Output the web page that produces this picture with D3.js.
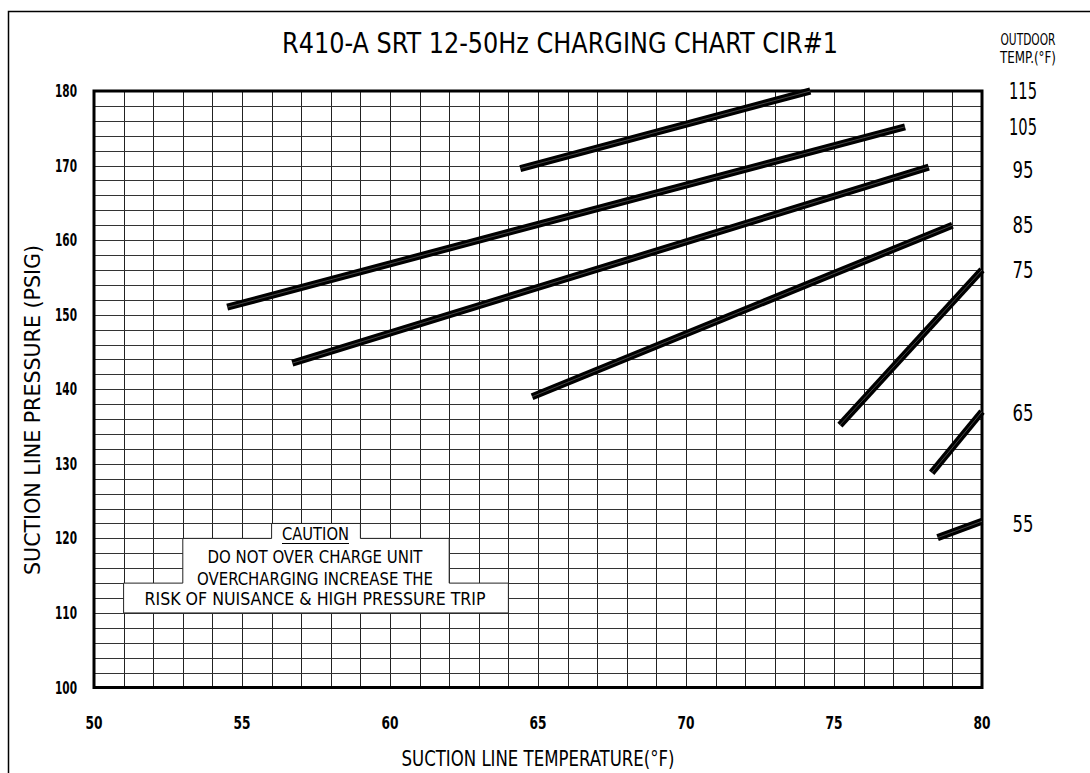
<!DOCTYPE html>
<html>
<head>
<meta charset="utf-8">
<script src="https://cdn.jsdelivr.net/npm/d3@7"></script>
<style>
  html, body { margin: 0; padding: 0; background: #fff; }
  svg { display: block; }
  text { font-family: "DejaVu Sans Condensed", "DejaVu Sans", "Liberation Sans Narrow", sans-serif; font-stretch: condensed; fill: #000; }
</style>
</head>
<body>
<svg id="chart" width="1090" height="773"></svg>
<script>
// ---- data ----
const xTicks = [50, 55, 60, 65, 70, 75, 80];
const yTicks = [100, 110, 120, 130, 140, 150, 160, 170, 180];
const outdoorTemps = [115, 105, 95, 85, 75, 65, 55];
const line115 = [[64.4, 169.6], [74.2, 180.0]];
const line105 = [[54.5, 151.0], [77.4, 175.2]];
const line95  = [[56.7, 143.5], [78.2, 169.8]];
const line85  = [[64.8, 139.0], [79.0, 162.0]];
const line75  = [[75.2, 135.2], [80.0, 156.0]];
const line65  = [[78.3, 128.8], [80.0, 137.0]];
const line55  = [[78.5, 120.1], [80.0, 122.3]];
const chargeLines = [line115, line105, line95, line85, line75, line65, line55];
const labelValues = [180.0, 175.2, 169.4, 162.1, 156.0, 136.8, 122.0];
// caution box outline in data units (temperature, pressure)
const cautionBox = [[56,122],[59,122],[59,120],[62,120],[62,114],[64,114],[64,110],[51,110],[51,114],[53,114],[53,120],[56,120]];
const cautionLines = ["DO NOT OVER CHARGE UNIT", "OVERCHARGING INCREASE THE", "RISK OF NUISANCE  &  HIGH PRESSURE TRIP"];
const titleText = "R410-A SRT 12-50Hz CHARGING CHART CIR#1";

// ---- layout ----
const svg = d3.select("#chart");
const x = d3.scaleLinear().domain([50, 80]).range([94, 982]);
const y = d3.scaleLinear().domain([100, 180]).range([687.5, 91]);

// outer frame
svg.append("rect").attr("x", 8.5).attr("y", 11.5).attr("width", 1100).attr("height", 800)
  .attr("fill", "none").attr("stroke", "#000").attr("stroke-width", 1.5);

// grid
const g = svg.append("g");
g.selectAll("line.v").data(d3.range(50, 81, 1)).join("line")
  .attr("x1", d => Math.round(x(d)) + 0.5).attr("x2", d => Math.round(x(d)) + 0.5)
  .attr("y1", y(180)).attr("y2", y(100))
  .attr("stroke", "#222").attr("stroke-width", 1);
g.selectAll("line.h").data(d3.range(100, 181, 2)).join("line")
  .attr("y1", d => Math.round(y(d)) + 0.5).attr("y2", d => Math.round(y(d)) + 0.5)
  .attr("x1", x(50)).attr("x2", x(80))
  .attr("stroke", "#333").attr("stroke-width", 1);

// caution box
const boxLine = d3.line().x(d => x(d[0])).y(d => y(d[1]));
g.append("path").attr("d", boxLine(cautionBox) + "Z")
  .attr("fill", "#fff").attr("stroke", "#222").attr("stroke-width", 1);

// plot border
svg.append("rect").attr("x", x(50)).attr("y", y(180))
  .attr("width", x(80) - x(50)).attr("height", y(100) - y(180))
  .attr("fill", "none").attr("stroke", "#000").attr("stroke-width", 3);

// charge lines
const ln = d3.line().x(d => x(d[0])).y(d => y(d[1]));
const lg = svg.append("g");
lg.selectAll("path.thick").data(chargeLines).join("path")
  .attr("d", ln).attr("fill", "none").attr("stroke", "#000")
  .attr("stroke-width", 7).attr("stroke-linecap", "butt");
lg.selectAll("path.thin").data(chargeLines).join("path")
  .attr("d", ln).attr("fill", "none").attr("stroke", "#777")
  .attr("stroke-width", 0.6);

// axes tick labels
svg.append("g").selectAll("text").data(yTicks).join("text")
  .attr("x", 77).attr("y", d => y(d)).attr("dy", "0.36em")
  .attr("text-anchor", "end").attr("font-size", 17).attr("font-weight", "bold")
  .attr("textLength", 22).attr("lengthAdjust", "spacingAndGlyphs")
  .text(d => d);
svg.append("g").selectAll("text").data(xTicks).join("text")
  .attr("x", d => x(d)).attr("y", 729)
  .attr("text-anchor", "middle").attr("font-size", 17).attr("font-weight", "bold")
  .attr("textLength", 17).attr("lengthAdjust", "spacingAndGlyphs")
  .text(d => d);

// right labels
svg.append("g").selectAll("text").data(outdoorTemps).join("text")
  .attr("x", 1023).attr("y", (d, i) => y(labelValues[i])).attr("dy", "0.36em")
  .attr("text-anchor", "middle").attr("font-size", 23)
  .attr("textLength", d => d >= 100 ? 28 : 21).attr("lengthAdjust", "spacingAndGlyphs")
  .text(d => d);

svg.append("text").attr("x", 1028).attr("y", 45).attr("text-anchor", "middle")
  .attr("font-size", 15).attr("textLength", 55).attr("lengthAdjust", "spacingAndGlyphs").text("OUTDOOR");
svg.append("text").attr("x", 1028).attr("y", 63).attr("text-anchor", "middle")
  .attr("font-size", 15).attr("textLength", 56).attr("lengthAdjust", "spacingAndGlyphs").text("TEMP.(°F)");

// title
svg.append("text").attr("x", 560).attr("y", 53).attr("text-anchor", "middle")
  .attr("font-size", 28).attr("textLength", 556).attr("lengthAdjust", "spacingAndGlyphs")
  .text(titleText);

// axis titles
svg.append("text").attr("x", 538).attr("y", 766).attr("text-anchor", "middle")
  .attr("font-size", 22).attr("textLength", 273).attr("lengthAdjust", "spacingAndGlyphs")
  .text("SUCTION LINE TEMPERATURE(°F)");
svg.append("text").attr("transform", "translate(40,410) rotate(-90)").attr("text-anchor", "middle")
  .attr("font-size", 22).attr("textLength", 330).attr("lengthAdjust", "spacingAndGlyphs")
  .text("SUCTION LINE PRESSURE (PSIG)");

// caution text
svg.append("text").attr("x", 315.5).attr("y", 540).attr("text-anchor", "middle")
  .attr("font-size", 17).attr("textLength", 67).attr("lengthAdjust", "spacingAndGlyphs")
  .text("CAUTION");
svg.append("line").attr("x1", 282).attr("x2", 349).attr("y1", 543.5).attr("y2", 543.5)
  .attr("stroke", "#000").attr("stroke-width", 1);
const cautionY = [563, 585, 605];
const cautionW = [215, 236, 341];
svg.append("g").selectAll("text").data(cautionLines).join("text")
  .attr("x", 315).attr("y", (d, i) => cautionY[i]).attr("text-anchor", "middle")
  .attr("font-size", 18).attr("textLength", (d, i) => cautionW[i]).attr("lengthAdjust", "spacingAndGlyphs")
  .text(d => d);
</script>
</body>
</html>
